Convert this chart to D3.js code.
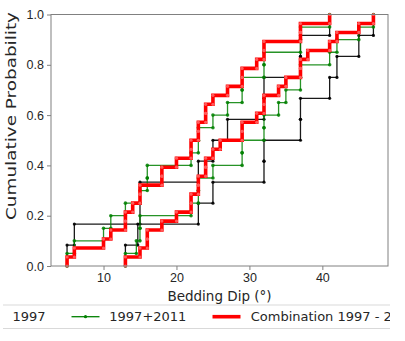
<!DOCTYPE html>
<html>
<head>
<meta charset="utf-8">
<script src="https://cdn.jsdelivr.net/npm/d3@7"></script>
<style>
  body { margin: 0; background: #fff; }
  svg { display: block; font-family: "DejaVu Sans", sans-serif; }
</style>
</head>
<body>
<div id="chart"></div>
<script>
// bedding dip samples (degrees), two groups per dataset
const dip1997A = [5, 6, 15, 15, 23, 25, 27, 32, 32, 37, 37, 41];
const dip1997B = [13, 14.7, 23, 25, 32, 32, 37, 37, 41, 42, 45, 47];
const dip1997_2011A = [5, 6, 10, 11, 13, 15, 16, 16, 22, 23, 23, 25, 27, 29, 29, 32, 32, 37, 37, 41];
const dip1997_2011B = [13, 14.5, 15, 15, 22, 23, 23, 25, 29, 29, 32, 32, 34, 35, 37, 37, 41, 42, 45, 47];
const dipCombA = [5, 6, 10, 11, 13, 13, 14, 15, 15, 18, 18, 20, 22, 22, 23, 23, 24, 24, 25, 27, 29, 29, 31, 32, 32, 37, 37, 41];
const dipCombB = [13, 15, 16, 16, 18, 20, 22, 22, 23, 23, 24, 24, 25, 26, 29, 29, 31, 32, 32, 34, 35, 37, 37, 38, 41, 42, 45, 47];

const seriesNames = ["1997", "1997+2011", "Combination 1997 - 2011"];
const xTicks = [10, 20, 30, 40];
const yTicks = [0, 0.2, 0.4, 0.6, 0.8, 1.0];

const width = 405, height = 341;
const margin = { top: 14.5, right: 17, bottom: 75, left: 51 };
const w = width - margin.left - margin.right;
const h = height - margin.top - margin.bottom;

const svg = d3.select("#chart").append("svg")
  .attr("width", width)
  .attr("height", height);

const g = svg.append("g").attr("transform", `translate(${margin.left},${margin.top})`);

const x = d3.scaleLinear().domain([2.8, 49.0]).range([0, w]);
const y = d3.scaleLinear().domain([0, 1]).range([h, 0]);

// step points of an empirical cdf, a corner at every sample
function ecdf(vals) {
  const s = vals.slice().sort((a, b) => a - b);
  const n = s.length;
  const pts = [];
  s.forEach((v, i) => {
    pts.push([v, i / n]);
    pts.push([v, (i + 1) / n]);
  });
  return pts;
}

const line = d3.line().x(d => x(d[0])).y(d => y(d[1]));

const series = [
  { data: dip1997A, color: "#000", lw: 1.3, r: 1.6, op: 0.9 },
  { data: dip1997B, color: "#000", lw: 1.3, r: 1.6, op: 0.9 },
  { data: dip1997_2011A, color: "#008000", lw: 1.3, r: 1.8, op: 0.85 },
  { data: dip1997_2011B, color: "#008000", lw: 1.3, r: 1.8, op: 0.85 },
  { data: dipCombA, color: "#ff0000", lw: 3.6, r: 1.6, op: 1 },
  { data: dipCombB, color: "#ff0000", lw: 3.6, r: 1.6, op: 1 }
];

series.forEach(s => {
  const pts = ecdf(s.data);
  g.append("path")
    .datum(pts)
    .attr("fill", "none")
    .attr("stroke", s.color)
    .attr("stroke-width", s.lw)
    .attr("opacity", s.op)
    .attr("d", line);
  g.selectAll(null)
    .data(pts)
    .enter()
    .append("circle")
    .attr("cx", d => x(d[0]))
    .attr("cy", d => y(d[1]))
    .attr("r", s.r)
    .attr("fill", s.color === "#ff0000" ? "#ff5a5a" : s.color)
    .attr("opacity", s.op);
});

// axes
const yAxis = g.append("g")
  .call(d3.axisLeft(y).tickValues(yTicks).tickFormat(d3.format(".1f")).tickSize(4).tickPadding(3));
const xAxis = g.append("g")
  .attr("transform", `translate(0,${h})`)
  .call(d3.axisBottom(x).tickValues(xTicks).tickFormat(d3.format("d")).tickSize(4).tickPadding(3));

[xAxis, yAxis].forEach(a => {
  a.select(".domain").remove();
  a.selectAll(".tick line").attr("stroke", "#808080");
  a.selectAll(".tick text").attr("fill", "#262626").style("font-size", "12.5px");
});

// frame
g.append("rect")
  .attr("width", w)
  .attr("height", h)
  .attr("fill", "none")
  .attr("stroke", "#808080")
  .attr("stroke-width", 1);

// axis labels
g.append("text")
  .attr("x", w / 2)
  .attr("y", h + 34.5)
  .attr("text-anchor", "middle")
  .attr("fill", "#262626")
  .style("font-size", "13.5px")
  .text("Bedding Dip (\u00b0)");

// the y label is drawn stretched along its length, as in the source image
svg.append("text")
  .attr("transform", "translate(15.5,116) rotate(-90)")
  .attr("text-anchor", "middle")
  .attr("fill", "#262626")
  .attr("textLength", 208)
  .attr("lengthAdjust", "spacingAndGlyphs")
  .style("font-size", "14.5px")
  .text("Cumulative Probability");

// legend, wider than the figure and clipped at both sides
svg.append("clipPath").attr("id", "legclip")
  .append("rect").attr("x", 3).attr("y", 290).attr("width", 387).attr("height", 50);

const leg = svg.append("g").attr("clip-path", "url(#legclip)");
leg.append("rect")
  .attr("x", -40).attr("y", 305)
  .attr("width", 480).attr("height", 23.5)
  .attr("fill", "#fff")
  .attr("stroke", "#d9d9d9");

const legItems = [
  { name: seriesNames[0], color: "#000", lw: 1.3, x0: -27, tx: 12.5, dot: true },
  { name: seriesNames[1], color: "#008000", lw: 1.3, x0: 71.5, tx: 109.3, dot: true },
  { name: seriesNames[2], color: "#ff0000", lw: 3.6, x0: 212.5, tx: 250.7, dot: false }
];
const legY = 316.7;
legItems.forEach(it => {
  leg.append("line")
    .attr("x1", it.x0).attr("x2", it.x0 + 28)
    .attr("y1", legY).attr("y2", legY)
    .attr("stroke", it.color)
    .attr("stroke-width", it.lw);
  if (it.dot) {
    leg.append("circle")
      .attr("cx", it.x0 + 14).attr("cy", legY).attr("r", 1.6)
      .attr("fill", it.color);
  }
  leg.append("text")
    .attr("x", it.tx).attr("y", legY + 4.5)
    .attr("fill", "#262626")
    .style("font-size", "13px")
    .text(it.name);
});
</script>
</body>
</html>
